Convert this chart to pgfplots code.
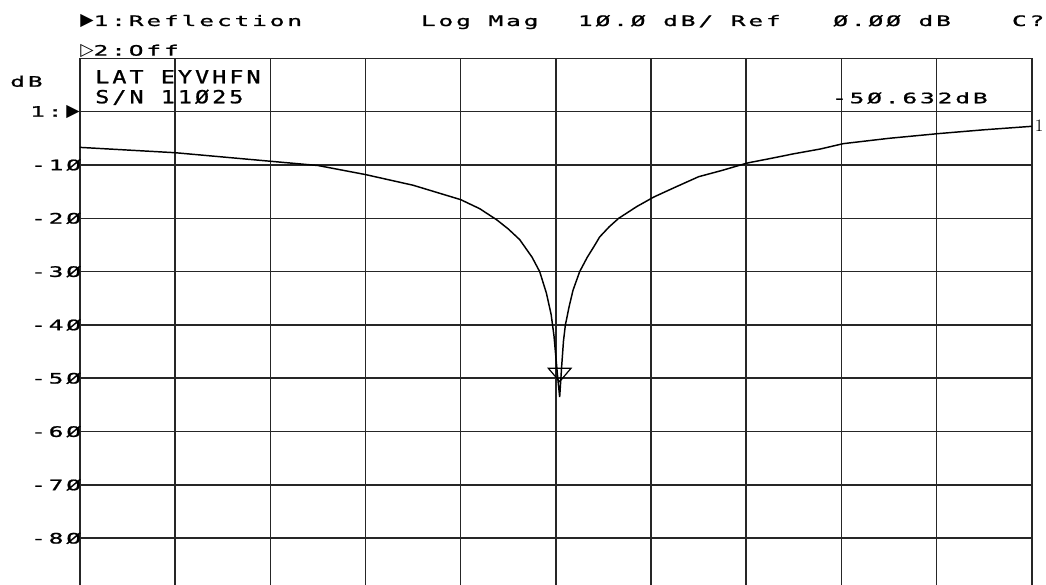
\documentclass[border=0pt]{standalone}
\usepackage{pgfplots}
\pgfplotsset{compat=1.18}
\usepackage{fontspec}
\newfontfamily\hp[FakeStretch=1.7,LetterSpace=20,FakeBold=1.2]{DejaVu Sans Mono}
\newfontfamily\hpb[FakeStretch=1.3,LetterSpace=17,FakeBold=1.2]{DejaVu Sans Mono}
\newfontfamily\sym{DejaVu Sans}
\newcommand{\hpf}{\hp\fontsize{10.8}{12}\selectfont}
\newcommand{\hpbf}{\hpb\fontsize{13.5}{15}\selectfont}
\begin{document}
\begin{tikzpicture}
\begin{axis}[
  scale only axis, width=713.8pt, height=395pt,
  at={(0,0)}, anchor=south west,
  xmin=0, xmax=10, ymin=-88.76, ymax=10,
  xtick={0,1,...,10}, xticklabels={},
  ytick={-80,-70,-60,-50,-40,-30,-20,-10,0,10},
  yticklabels={-8Ø,-7Ø,-6Ø,-5Ø,-4Ø,-3Ø,-2Ø,-1Ø,,},
  yticklabel style={font=\hpf, anchor=east, inner sep=0pt, xshift=1pt},
  grid=major,
  major grid style={draw=black!85, line width=1.2pt},
  axis line style={draw=none},
  tick style={draw=none},
  clip=false,
]
\addplot[black, line width=1.1pt] coordinates {
(0,-6.7) (0.5,-7.2) (1.0,-7.7) (1.5,-8.5) (2.0,-9.3) (2.5,-10.1) (3.0,-11.8)
(3.5,-13.8) (4.0,-16.5) (4.2,-18.2) (4.38,-20.3) (4.5,-22.0) (4.62,-24.0)
(4.75,-27.3) (4.83,-30) (4.9,-34) (4.95,-38) (4.98,-42) (5.0,-46) (5.02,-50)
(5.04,-53.5) (5.06,-48) (5.08,-43) (5.10,-40) (5.14,-36.5) (5.18,-33.5)
(5.25,-30) (5.33,-27.3) (5.4,-25.3) (5.46,-23.5) (5.56,-21.6) (5.66,-20)
(5.85,-17.8) (6.03,-16.0) (6.25,-14.2) (6.5,-12.2) (6.75,-11.0) (6.94,-10.0)
(7.02,-9.6) (7.25,-8.8) (7.5,-7.9) (7.78,-7.0) (8.02,-6.0) (8.5,-5.0)
(9.03,-4.1) (9.5,-3.4) (10,-2.75)
};
\addplot[only marks, mark=triangle, mark size=9.8pt,
  mark options={draw=black, fill=white, line width=0.9pt, yshift=6.7pt, yscale=0.68, rotate=180}]
  coordinates {(5.04,-50.632)};
\end{axis}
% header and annotation texts
\node[anchor=base west, inner sep=0pt] at (0pt,419.25pt) {{\sym\fontsize{13}{12}\selectfont ▶}{\hpf 1:Reflection}};
\node[anchor=base west, inner sep=0pt] at (255.5pt,419.25pt) {\hpf Log Mag};
\node[anchor=base west, inner sep=0pt] at (373.3pt,419.25pt) {\hpf 1Ø.Ø dB/ Ref};
\node[anchor=base west, inner sep=0pt] at (564.8pt,419.25pt) {\hpf Ø.ØØ dB};
\node[anchor=base west, inner sep=0pt] at (698.8pt,419.25pt) {\hpf C?};
\node[anchor=base west, inner sep=0pt] at (0pt,397pt) {{\sym\fontsize{13}{12}\selectfont ▷}{\hpf 2:Off}};
\node[anchor=base west, inner sep=0pt] at (-52.5pt,373.7pt) {\hpf dB};
\node[anchor=base west, inner sep=0pt] at (11.25pt,376.3pt) {\hpbf LAT EYVHFN};
\node[anchor=base west, inner sep=0pt] at (11.25pt,361.3pt) {\hpbf S/N 11Ø25};
\node[anchor=base west, inner sep=0pt] at (563.8pt,361.3pt) {\hpf -5Ø.632dB};
\node[anchor=base west, inner sep=0pt] at (-37.5pt,351.2pt) {\hpf 1:};
\node[anchor=east, inner sep=0pt] at (0pt,354.75pt) {\sym\fontsize{13}{12}\selectfont ▶};
\node[anchor=west, inner sep=0pt] at (716pt,344.25pt) {\fontsize{13}{14}\selectfont 1};
\pgfresetboundingbox
\path[use as bounding box] (-60pt,0pt) rectangle (724.5pt,438.75pt);
\end{tikzpicture}
\end{document}
